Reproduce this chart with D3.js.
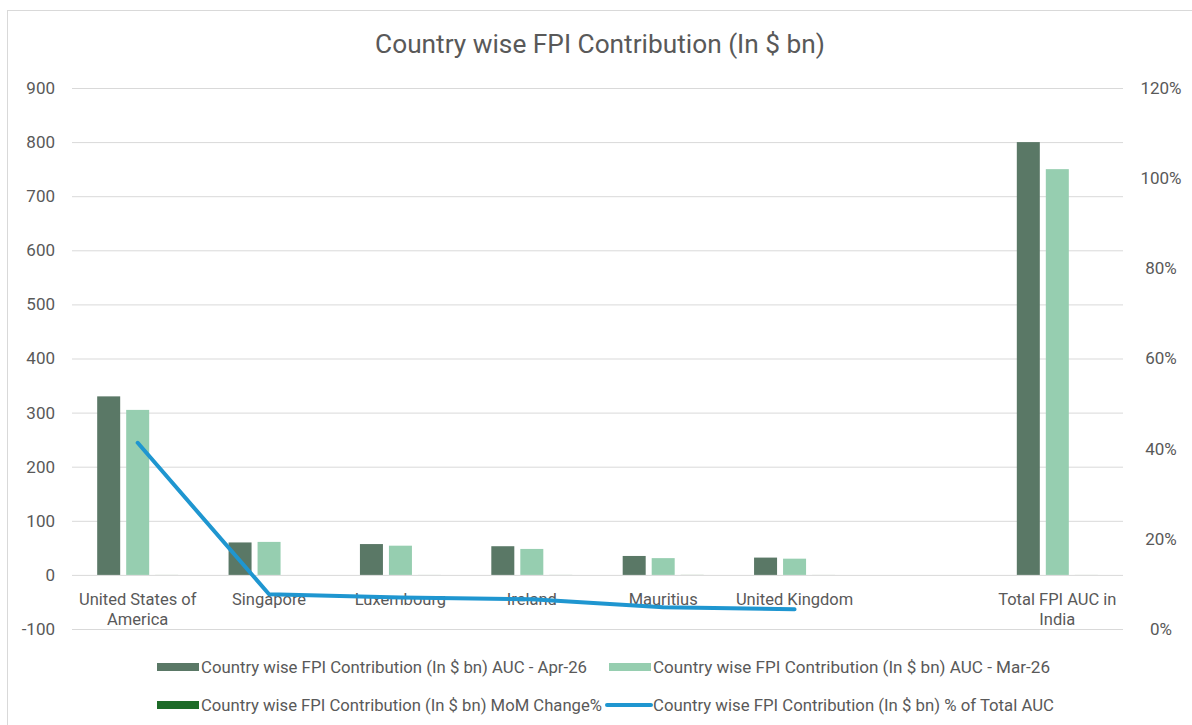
<!DOCTYPE html>
<html>
<head>
<meta charset="utf-8">
<script src="https://cdn.jsdelivr.net/npm/d3@7"></script>
<style>
  html, body { margin: 0; padding: 0; background: #ffffff; }
  svg { display: block; font-family: Roboto, "Open Sans", sans-serif; }
</style>
</head>
<body>
<script>
// ---------------- DATA ----------------
const chartTitle = "Country wise FPI Contribution (In $ bn)";
const categories = ["United States of America", "Singapore", "Luxembourg", "Ireland", "Mauritius", "United Kingdom", "", "Total FPI AUC in India"];
const aucApr = [330, 60, 57, 53, 35, 32, null, 800];
const aucMar = [305, 61, 54, 48, 31, 30, null, 750];
const momChange = [0.08, -0.02, 0.06, 0.10, 0.13, 0.07, null, 0.07];
const pctOfTotal = [0.413, 0.077, 0.070, 0.066, 0.048, 0.044, null, null];
const leftTicks = [-100, 0, 100, 200, 300, 400, 500, 600, 700, 800, 900];
const rightTicks = [0, 0.2, 0.4, 0.6, 0.8, 1.0, 1.2];
const seriesNames = [
  "Country wise FPI Contribution (In $ bn) AUC - Apr-26",
  "Country wise FPI Contribution (In $ bn) AUC - Mar-26",
  "Country wise FPI Contribution (In $ bn) MoM Change%",
  "Country wise FPI Contribution (In $ bn) % of Total AUC"
];

// ---------------- STYLE ----------------
const W = 1192, H = 725;
const plot = { left: 72, right: 1123, top: 88, bottom: 629 };
const colors = ["#5a7866", "#96ceb0", "#1d6b28", "#1f96d0"];
const textColor = "#595959";
const gridColor = "#d9d9d9";

const svg = d3.select("body").append("svg").attr("width", W).attr("height", H);

// chart border
svg.append("rect")
  .attr("x", 7.5).attr("y", 10.5)
  .attr("width", W + 20).attr("height", H + 20)
  .attr("fill", "#ffffff").attr("stroke", gridColor).attr("stroke-width", 1);

// scales
const x = d3.scaleBand().domain(categories).range([plot.left, plot.right]).padding(0);
const y = d3.scaleLinear().domain([-100, 900]).range([plot.bottom, plot.top]);
const y2 = d3.scaleLinear().domain([0, 1.2]).range([plot.bottom, plot.top]);
const bw = x.bandwidth();
const barSeries = [aucApr, aucMar, momChange];
const sub = d3.scaleBand().domain([0, 1, 2])
  .range([bw / 2 - 40.5, bw / 2 + 40.5]).paddingInner(6 / 29).paddingOuter(0);

// left axis + gridlines
const gLeft = svg.append("g").attr("transform", `translate(${plot.left},0)`)
  .call(d3.axisLeft(y).tickValues(leftTicks).tickSize(-(plot.right - plot.left)).tickPadding(17).tickFormat(d => String(d)));
gLeft.select(".domain").remove();
gLeft.selectAll(".tick line").attr("stroke", gridColor).attr("stroke-width", 1);
gLeft.selectAll(".tick text").attr("fill", textColor).attr("font-size", 17).attr("font-family", "Roboto, sans-serif");

// right axis
const gRight = svg.append("g").attr("transform", `translate(${plot.right},0)`)
  .call(d3.axisRight(y2).tickValues(rightTicks).tickSize(0).tickFormat(d => Math.round(d * 100) + "%"));
gRight.select(".domain").remove();
gRight.selectAll(".tick text").attr("fill", textColor).attr("font-size", 17)
  .attr("font-family", "Roboto, sans-serif").attr("text-anchor", "middle").attr("x", 38);

// bars
barSeries.forEach((vals, si) => {
  svg.append("g").selectAll("rect")
    .data(categories.map((c, i) => ({ c, v: vals[i] })).filter(d => d.v != null))
    .join("rect")
    .attr("x", d => x(d.c) + sub(si))
    .attr("width", sub.bandwidth())
    .attr("y", d => y(Math.max(d.v, 0)))
    .attr("height", d => Math.abs(y(d.v) - y(0)))
    .attr("fill", colors[si]);
});

// category labels (wrapped)
const gCat = svg.append("g").attr("font-size", 16.5).attr("fill", textColor).attr("text-anchor", "middle");
categories.forEach(c => {
  if (!c) return;
  const t = gCat.append("text").attr("x", x(c) + bw / 2).attr("y", 605);
  const words = c.split(" ");
  let line = [];
  let tsp = t.append("tspan").attr("x", x(c) + bw / 2).attr("dy", 0);
  words.forEach(w => {
    line.push(w);
    tsp.text(line.join(" "));
    if (tsp.node().getComputedTextLength() > 132 && line.length > 1) {
      line.pop();
      tsp.text(line.join(" "));
      line = [w];
      tsp = t.append("tspan").attr("x", x(c) + bw / 2).attr("dy", 20).text(w);
    }
  });
});

// line series (% of total)
const lineGen = d3.line()
  .defined(d => d.v != null)
  .x(d => x(d.c) + bw / 2)
  .y(d => y2(d.v));
svg.append("path")
  .datum(categories.map((c, i) => ({ c, v: pctOfTotal[i] })))
  .attr("d", lineGen)
  .attr("fill", "none")
  .attr("stroke", colors[3])
  .attr("stroke-width", 4)
  .attr("stroke-linejoin", "round")
  .attr("stroke-linecap", "round");

// title
const title = svg.append("text")
  .attr("x", 600).attr("y", 53)
  .attr("text-anchor", "middle")
  .attr("fill", textColor)
  .attr("font-size", 22)
  .text(chartTitle);
const tl = title.node().getComputedTextLength();
title.attr("font-size", 22 * 450 / tl);

// legend
const legendItems = [
  { i: 0, sx: 157, tx: 201, cy: 667, tw: 386, type: "rect" },
  { i: 1, sx: 609, tx: 653, cy: 667, tw: 397, type: "rect" },
  { i: 2, sx: 157, tx: 201, cy: 705, tw: 401, type: "rect" },
  { i: 3, sx: 607, tx: 653, cy: 705, tw: 401, type: "line" }
];
const gLeg = svg.append("g");
legendItems.forEach(it => {
  if (it.type === "rect") {
    gLeg.append("rect").attr("x", it.sx).attr("y", it.cy - 4).attr("width", 42).attr("height", 8).attr("fill", colors[it.i]);
  } else {
    gLeg.append("line").attr("x1", it.sx).attr("x2", it.sx + 44).attr("y1", it.cy).attr("y2", it.cy)
      .attr("stroke", colors[it.i]).attr("stroke-width", 4).attr("stroke-linecap", "round");
  }
  gLeg.append("text")
    .attr("x", it.tx).attr("y", it.cy).attr("dy", "0.35em")
    .attr("fill", textColor).attr("font-size", 16)
    .attr("textLength", it.tw).attr("lengthAdjust", "spacingAndGlyphs")
    .text(seriesNames[it.i]);
});
</script>
</body>
</html>
